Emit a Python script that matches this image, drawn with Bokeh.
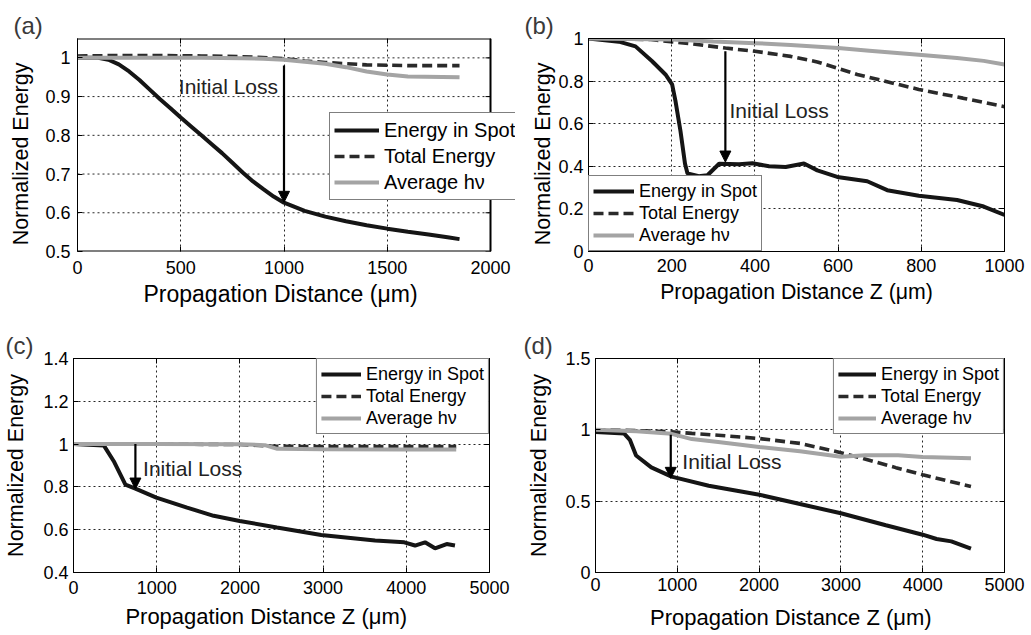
from bokeh.plotting import figure
from bokeh.models import (Range1d, FixedTicker, Legend, LegendItem, Label, Arrow,
                          NormalHead, LinearAxis)
from bokeh.layouts import column, row
from bokeh.embed import file_html
from bokeh.resources import INLINE

FONT = "Liberation Sans"
NB = "\u00a0"

# ---------------- data ----------------
# Panel (a)
a_spot_x = [0, 100, 150, 200, 250, 300, 350, 400, 450, 500, 550, 600, 650, 700, 750, 800, 850, 900, 950, 1000, 1100, 1200, 1300, 1400, 1500, 1600, 1700, 1800, 1850]
a_spot_y = [1.0, 1.0, 0.995, 0.983, 0.965, 0.943, 0.918, 0.893, 0.87, 0.846, 0.823, 0.80, 0.777, 0.754, 0.729, 0.704, 0.681, 0.661, 0.642, 0.626, 0.605, 0.59, 0.578, 0.568, 0.559, 0.551, 0.544, 0.536, 0.532]
a_total_x = [0, 200, 400, 600, 800, 1000, 1100, 1200, 1300, 1400, 1600, 1850]
a_total_y = [1.005, 1.006, 1.006, 1.005, 1.003, 0.998, 0.992, 0.988, 0.985, 0.982, 0.98, 0.98]
a_avg_x = [0, 200, 400, 600, 800, 900, 1000, 1100, 1200, 1300, 1400, 1500, 1600, 1850]
a_avg_y = [1.0, 1.0, 1.0, 1.0, 0.999, 0.998, 0.995, 0.99, 0.985, 0.976, 0.965, 0.957, 0.952, 0.95]

# Panel (b)
b_spot_x = [0, 73, 113, 153, 185, 201, 209, 221, 232, 238, 265, 286, 314, 362, 394, 434, 474, 518, 550, 598, 670, 718, 794, 886, 950, 1000]
b_spot_y = [1.0, 0.985, 0.963, 0.893, 0.831, 0.785, 0.707, 0.567, 0.412, 0.366, 0.353, 0.358, 0.412, 0.41, 0.414, 0.40, 0.397, 0.413, 0.381, 0.35, 0.33, 0.288, 0.262, 0.242, 0.211, 0.172]
b_total_x = [0, 150, 250, 329, 400, 486, 550, 646, 794, 900, 1000]
b_total_y = [1.0, 0.995, 0.975, 0.955, 0.94, 0.916, 0.89, 0.831, 0.761, 0.72, 0.68]
b_avg_x = [0, 200, 300, 400, 486, 600, 675, 794, 886, 950, 1000]
b_avg_y = [1.0, 0.995, 0.986, 0.978, 0.97, 0.955, 0.943, 0.924, 0.908, 0.895, 0.878]

# Panel (c)
c_spot_x = [0, 364, 484, 624, 744, 996, 1365, 1685, 1997, 2445, 2977, 3625, 3976, 4105, 4225, 4345, 4485, 4585]
c_spot_y = [1.0, 0.994, 0.92, 0.811, 0.792, 0.75, 0.703, 0.665, 0.641, 0.61, 0.575, 0.549, 0.541, 0.526, 0.541, 0.513, 0.533, 0.526]
c_total_x = [0, 1000, 2000, 2400, 3000, 4000, 4600]
c_total_y = [1.0, 1.0, 0.998, 0.99, 0.988, 0.988, 0.988]
c_avg_x = [0, 1000, 2000, 2300, 2450, 3000, 4000, 4600]
c_avg_y = [1.0, 1.0, 0.999, 0.995, 0.978, 0.976, 0.975, 0.975]

# Panel (d)
d_spot_x = [0, 351, 420, 496, 682, 930, 1384, 2004, 2500, 3000, 3550, 4000, 4170, 4350, 4590]
d_spot_y = [0.985, 0.974, 0.93, 0.82, 0.737, 0.672, 0.608, 0.545, 0.48, 0.415, 0.331, 0.265, 0.235, 0.218, 0.168]
d_total_x = [0, 500, 930, 1177, 1500, 2004, 2500, 3000, 3264, 3672, 4000, 4590]
d_total_y = [1.0, 0.995, 0.986, 0.975, 0.962, 0.939, 0.905, 0.84, 0.80, 0.735, 0.685, 0.603]
d_avg_x = [0, 500, 930, 1177, 1500, 2000, 2500, 3000, 3300, 3700, 4000, 4590]
d_avg_y = [1.0, 0.99, 0.972, 0.935, 0.915, 0.88, 0.85, 0.812, 0.822, 0.822, 0.81, 0.80]

series_names = ["Energy in Spot", "Total Energy", "Average h\u03bd"]
loss_text = "Initial Loss"
x_title_a = "Propagation Distance (\u03bcm)"
x_title = "Propagation Distance Z (\u03bcm)"
y_title = "Normalized Energy"
panel_tags = ["(a)", "(b)", "(c)", "(d)"]

# arrows: x, y_start, y_end
a_arrow = [1000, 0.98, 0.627]
b_arrow = [329, 0.94, 0.42]
c_arrow = [744, 1.0, 0.79]
d_arrow = [920, 0.965, 0.66]

a_xticks = [0, 500, 1000, 1500, 2000]
a_yticks = [0.5, 0.6, 0.7, 0.8, 0.9, 1.0]
b_xticks = [0, 200, 400, 600, 800, 1000]
b_yticks = [0, 0.2, 0.4, 0.6, 0.8, 1.0]
c_xticks = [0, 1000, 2000, 3000, 4000, 5000]
c_yticks = [0.4, 0.6, 0.8, 1.0, 1.2, 1.4]
d_xticks = [0, 1000, 2000, 3000, 4000, 5000]
d_yticks = [0, 0.5, 1.0, 1.5]


def style_axis(ax):
    ax.major_tick_in = 5
    ax.major_tick_out = 0
    ax.minor_tick_line_color = None
    ax.axis_line_color = "black"
    ax.major_label_text_font = FONT
    ax.major_label_text_font_size = "18px"
    ax.major_label_text_color = "black"
    ax.axis_label_text_font = FONT
    ax.axis_label_text_font_style = "normal"
    ax.axis_label_text_color = "black"


def mirror_axis(ticks, line=True):
    return LinearAxis(ticker=FixedTicker(ticks=ticks), major_label_text_font_size="0px",
                      major_label_text_color=None, major_tick_in=5, major_tick_out=0,
                      minor_tick_line_color=None, major_label_standoff=0,
                      axis_line_color="black" if line else None)


def panel(W, H, left, top, right, bottom, xr, yr, xticks, yticks, xlabel,
          xlab_size, ylabel, tick_st_x, lab_st_x, tick_st_y, lab_st_y, tag, tag_off,
          mirror=True):
    p = figure(width=W, height=H, x_range=Range1d(*xr), y_range=Range1d(*yr),
               output_backend="svg", toolbar_location=None,
               min_border_left=left, min_border_top=top,
               min_border_right=W - right, min_border_bottom=H - bottom)
    p.background_fill_color = "white"
    p.border_fill_color = "white"
    p.outline_line_color = "black"
    p.outline_line_width = 1
    p.title.text = tag
    p.title.align = "left"
    p.title.offset = tag_off
    p.title.standoff = 0
    p.title.text_font = FONT
    p.title.text_font_size = "24px"
    p.title.text_font_style = "normal"
    p.title.text_color = "#3a3a3a"
    p.xaxis.ticker = FixedTicker(ticks=xticks)
    p.yaxis.ticker = FixedTicker(ticks=yticks)
    p.yaxis.major_label_overrides = {0: "0", 1: "1"}
    style_axis(p.xaxis[0])
    style_axis(p.yaxis[0])
    p.xaxis.axis_label = xlabel
    p.xaxis.axis_label_text_font_size = xlab_size
    p.yaxis.axis_label = ylabel
    p.yaxis.axis_label_text_font_size = "21.5px"
    p.xaxis.major_label_standoff = tick_st_x
    p.xaxis.axis_label_standoff = lab_st_x
    p.yaxis.major_label_standoff = tick_st_y
    p.yaxis.axis_label_standoff = lab_st_y
    if mirror:
        p.add_layout(mirror_axis(xticks), "above")
        p.add_layout(mirror_axis(yticks), "right")
    for g in (p.xgrid, p.ygrid):
        g.grid_line_color = "black"
        g.grid_line_dash = "2 3"
        g.grid_line_width = 1
        g.grid_line_alpha = 0.85
    return p


def add_series(p, sx, sy, tx, ty, ax_, ay):
    r1 = p.line(sx, sy, line_color="#151515", line_width=4)
    r2 = p.line(tx, ty, line_color="#2a2a2a", line_width=3.6, line_dash="10 5")
    r3 = p.line(ax_, ay, line_color="#a4a4a4", line_width=4)
    return [r1, r2, r3]


def add_legend(p, rs, loc, fsize, lh, gw):
    items = [LegendItem(label=n, renderers=[r]) for n, r in zip(series_names, rs)]
    leg = Legend(items=items, location=loc, border_line_color="black", border_line_width=1,
                 background_fill_color="white", background_fill_alpha=1.0,
                 label_text_font=FONT, label_text_font_size=fsize, label_text_color="black",
                 glyph_width=gw, glyph_height=lh, label_height=lh, spacing=0, padding=4,
                 margin=0, label_standoff=5)
    p.add_layout(leg)


def add_arrow(p, arr):
    p.add_layout(Arrow(end=NormalHead(size=11, fill_color="black", line_color="black"),
                       x_start=arr[0], y_start=arr[1], x_end=arr[0], y_end=arr[2],
                       line_width=2.2, line_color="black"))


def add_loss(p, x, y, align):
    p.add_layout(Label(x=x, y=y, text=loss_text, text_font=FONT, text_font_size="21px",
                       text_color="#222222", text_baseline="middle", text_align=align))


# Panel (a): figure 515x317, frame 77..490 (x 0..2000), 38..254.
# The plotting area is widened to the canvas edge so the legend can overhang
# the box as in the original; the box itself is drawn at x = 0..2000.
a_xmax = a_xticks[-1]
a_ext = a_xmax * (515 - 77) / (490 - 77)
pa = panel(515, 317, 77, 38, 515, 254, (0, a_ext), (0.5, 1.05), a_xticks, a_yticks,
           x_title_a + NB * 5, "23px", y_title + NB * 3, 9, 4, 7, 9, panel_tags[0], -64,
           mirror=False)
pa.outline_line_color = None
pa.xaxis.axis_line_color = None
pa.ygrid.grid_line_color = None
pa.add_layout(mirror_axis(a_xticks, line=False), "above")
ylo, yhi = 0.5, 1.05
inner = a_yticks[1:]
pa.segment(x0=[0] * len(inner), x1=[a_xmax] * len(inner), y0=inner, y1=inner,
           line_color="black", line_dash="2 3", line_alpha=0.85, line_width=1)
pa.segment(x0=[0, 0, a_xmax], x1=[a_xmax, a_xmax, a_xmax], y0=[ylo, yhi, ylo],
           y1=[ylo, yhi, yhi], line_color="black", line_width=2)
tick_len = 5 * a_ext / (515 - 77)
pa.segment(x0=[a_xmax - tick_len] * len(a_yticks), x1=[a_xmax] * len(a_yticks),
           y0=a_yticks, y1=a_yticks, line_color="black", line_width=1)
ra = add_series(pa, a_spot_x, a_spot_y, a_total_x, a_total_y, a_avg_x, a_avg_y)
add_legend(pa, ra, (252, 51), "20px", 26, 45)
add_arrow(pa, a_arrow)
add_loss(pa, 971, 0.927, "right")

# Panel (b): figure 516x317, frame 73..489 (abs 588..1004), 35..251
pb = panel(516, 317, 73, 35, 489, 251, (0, 1000), (0, 1.0), b_xticks, b_yticks,
           x_title, "21.3px", y_title + NB * 3, 7, 5, 5, 0, panel_tags[1], -64)
rb = add_series(pb, b_spot_x, b_spot_y, b_total_x, b_total_y, b_avg_x, b_avg_y)
add_legend(pb, rb, "bottom_left", "18px", 22, 41)
add_arrow(pb, b_arrow)
add_loss(pb, 339, 0.66, "left")

# Panel (c): figure 515x318 at y=317, frame 73..489, 41..257
pc = panel(515, 318, 73, 41, 489, 257, (0, 5000), (0.4, 1.4), c_xticks, c_yticks,
           x_title + NB * 5, "22px", y_title, 8, 7, 5, 12, panel_tags[2], -68)
rc = add_series(pc, c_spot_x, c_spot_y, c_total_x, c_total_y, c_avg_x, c_avg_y)
add_legend(pc, rc, "top_right", "18px", 22, 40)
add_arrow(pc, c_arrow)
add_loss(pc, 836, 0.888, "left")

# Panel (d): figure 516x318 at (515,317), frame 80..489, 41..255
pd_ = panel(516, 318, 80, 41, 489, 255, (0, 5000), (0, 1.5), d_xticks, d_yticks,
            x_title + NB * 3, "22px", y_title, 5, 11, 5, 11, panel_tags[3], -72)
rd = add_series(pd_, d_spot_x, d_spot_y, d_total_x, d_total_y, d_avg_x, d_avg_y)
add_legend(pd_, rd, "top_right", "18px", 22, 38)
add_arrow(pd_, d_arrow)
add_loss(pd_, 1062, 0.776, "left")

layout = column(row(pa, pb), row(pc, pd_))
open("out.html", "w").write(file_html(layout, INLINE))
